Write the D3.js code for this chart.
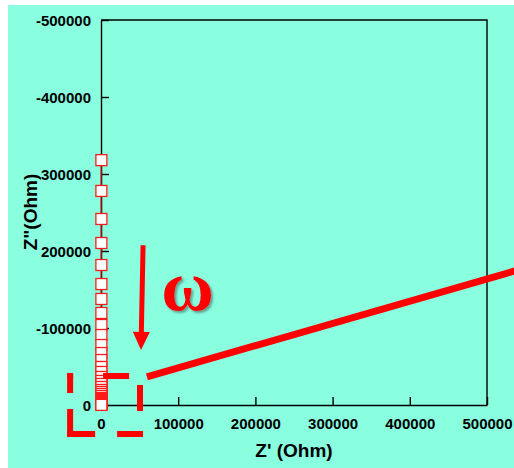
<!DOCTYPE html>
<html>
<head>
<meta charset="utf-8">
<script src="https://cdn.jsdelivr.net/npm/d3@7/dist/d3.min.js"></script>
<style>
  html, body { margin: 0; padding: 0; background: #ffffff; }
  svg { display: block; }
  .axis text { font-family: 'Liberation Sans', Arial, sans-serif; font-weight: bold; font-size: 15px; fill: #000; }
  .axis path, .axis line { stroke: #000; stroke-width: 1.4px; }
  .title { font-family: 'Liberation Sans', Arial, sans-serif; font-weight: bold; font-size: 19px; fill: #000; }
</style>
</head>
<body>
<svg id="chart" width="514" height="468"></svg>
<script>
// impedance data (Ohm)
const zReal = [500, 500, 500, 500, 500, 500, 500, 500, 500, 500, 500, 500, 500, 500, 500, 500,
  500, 500, 500, 500, 500, 500, 500, 500, 500, 500, 500, 500, 500, 500, 500, 500];
const zImag = [318000, 278000, 241600, 210400, 181800, 157100, 137700, 119500, 103900, 90900,
  77900, 67500, 58400, 49400, 42900, 36400, 31200, 27300, 23400, 19500, 16900, 14300, 11700,
  9100, 7800, 6500, 5200, 3900, 2600, 1300, 650, 150];

// axis ticks (labels as they show in the picture)
const xTicks = [0, 100000, 200000, 300000, 400000, 500000];
const xTickLabels = ['0', '100000', '200000', '300000', '400000', '500000'];
const yTicks = [0, 100000, 200000, 300000, 400000, 500000];
const yTickLabels = ['0', '-100000', '200000', '300000', '-400000', '-500000'];

// annotations (data units)
const zoomBoxX = [-40000, 50500];
const zoomBoxY = [-37500, 37800];
const trendX = [59500, 565000];
const trendY = [36500, 182500];
const arrowX = [54500, 51800];
const arrowY = [207500, 71500];
const omegaAt = [112000, 123000];

const svg = d3.select('#chart');
const margin = { top: 20, right: 27, bottom: 63, left: 101 };
const width = 514 - margin.left - margin.right;
const height = 468 - margin.top - margin.bottom;

// background panel
svg.append('rect')
  .attr('x', 8).attr('y', 5)
  .attr('width', 506).attr('height', 463)
  .attr('fill', '#89ffe0');

const defs = svg.append('defs');
const shadow = defs.append('filter').attr('id', 'shadow')
  .attr('x', '-20%').attr('y', '-20%').attr('width', '160%').attr('height', '160%');
shadow.append('feDropShadow')
  .attr('dx', 2).attr('dy', 2).attr('stdDeviation', 1.2)
  .attr('flood-color', '#3a5a55').attr('flood-opacity', 0.55);

const x = d3.scaleLinear().domain([0, 500000]).range([0, width]);
const y = d3.scaleLinear().domain([0, 500000]).range([height, 0]);

const g = svg.append('g')
  .attr('transform', `translate(${margin.left},${margin.top})`);

// frame (top / right)
g.append('path')
  .attr('d', `M0,0H${width}V${height}`)
  .attr('fill', 'none')
  .attr('stroke', '#000')
  .attr('stroke-width', 1.4);

// x axis
g.append('g')
  .attr('class', 'axis')
  .attr('transform', `translate(0,${height})`)
  .call(d3.axisBottom(x)
    .tickValues(xTicks)
    .tickSizeInner(-8)
    .tickSizeOuter(0)
    .tickPadding(13)
    .tickFormat((d, i) => xTickLabels[i]));

// y axis
g.append('g')
  .attr('class', 'axis')
  .call(d3.axisLeft(y)
    .tickValues(yTicks)
    .tickSizeInner(-8)
    .tickSizeOuter(0)
    .tickPadding(10)
    .tickFormat((d, i) => yTickLabels[i]))
  .selectAll('.tick text').attr('dy', '0.36em');

// axis titles
svg.append('text')
  .attr('class', 'title')
  .attr('x', 294).attr('y', 457)
  .attr('text-anchor', 'middle')
  .text('Z\' (Ohm)');

svg.append('text')
  .attr('class', 'title')
  .attr('transform', 'translate(37,212) rotate(-90)')
  .attr('text-anchor', 'middle')
  .text('Z"(Ohm)');

// data line + markers
const pts = zImag.map((v, i) => ({ re: zReal[i], im: v }));
g.append('path')
  .datum(pts)
  .attr('fill', 'none')
  .attr('stroke', '#b00000')
  .attr('stroke-width', 1.5)
  .attr('d', d3.line().x(d => x(d.re)).y(d => y(d.im)));

g.selectAll('.marker')
  .data(pts)
  .enter().append('rect')
  .attr('class', 'marker')
  .attr('x', d => x(d.re) - 5.5)
  .attr('y', d => y(d.im) - 5.5)
  .attr('width', 11)
  .attr('height', 11)
  .attr('fill', '#ffffff')
  .attr('stroke', '#ff1a1a')
  .attr('stroke-width', 1.3);

// dashed zoom box, each side with its own dash run
const bl = x(zoomBoxX[0]), br = x(zoomBoxX[1]);
const bt = y(zoomBoxY[1]), bb = y(zoomBoxY[0]);
const sides = [
  { x1: bl - 3, y1: bt, x2: br + 3, y2: bt, dash: '6 30 26 40' },
  { x1: br, y1: bt - 3, x2: br, y2: bb + 3, dash: '0 12 26 40' },
  { x1: bl - 3, y1: bb, x2: br + 3, y2: bb, dash: '28 22 26 40' },
  { x1: bl, y1: bt - 3, x2: bl, y2: bb + 3, dash: '0 1 19 16 28 40' }
];
g.selectAll('.box-side')
  .data(sides)
  .enter().append('line')
  .attr('class', 'box-side')
  .attr('x1', d => d.x1).attr('y1', d => d.y1)
  .attr('x2', d => d.x2).attr('y2', d => d.y2)
  .attr('stroke', '#ff0000')
  .attr('stroke-width', 6)
  .attr('stroke-dasharray', d => d.dash);

// trend line
g.append('line')
  .attr('x1', x(trendX[0])).attr('y1', y(trendY[0]))
  .attr('x2', x(trendX[1])).attr('y2', y(trendY[1]))
  .attr('stroke', '#ff0000')
  .attr('stroke-width', 7);

// arrow
const ax0 = x(arrowX[0]), ay0 = y(arrowY[0]);
const ax1 = x(arrowX[1]), ay1 = y(arrowY[1]);
const ang = Math.atan2(ay1 - ay0, ax1 - ax0);
const headLen = 18, headW = 8.5;
const bx = ax1 - headLen * Math.cos(ang), by = ay1 - headLen * Math.sin(ang);
g.append('line')
  .attr('x1', ax0).attr('y1', ay0)
  .attr('x2', bx).attr('y2', by)
  .attr('stroke', '#ff0000')
  .attr('stroke-width', 5);
g.append('path')
  .attr('d', `M${ax1},${ay1}L${bx + headW * Math.sin(ang)},${by - headW * Math.cos(ang)}L${bx - headW * Math.sin(ang)},${by + headW * Math.cos(ang)}Z`)
  .attr('fill', '#ff0000');

// omega
g.append('text')
  .attr('x', x(omegaAt[0]))
  .attr('y', y(omegaAt[1]))
  .attr('text-anchor', 'middle')
  .attr('font-family', '\'Liberation Serif\', \'Times New Roman\', serif')
  .attr('font-weight', 'bold')
  .attr('font-size', 72)
  .attr('fill', '#ff0000')
  .attr('filter', 'url(#shadow)')
  .text('ω');
</script>
</body>
</html>
